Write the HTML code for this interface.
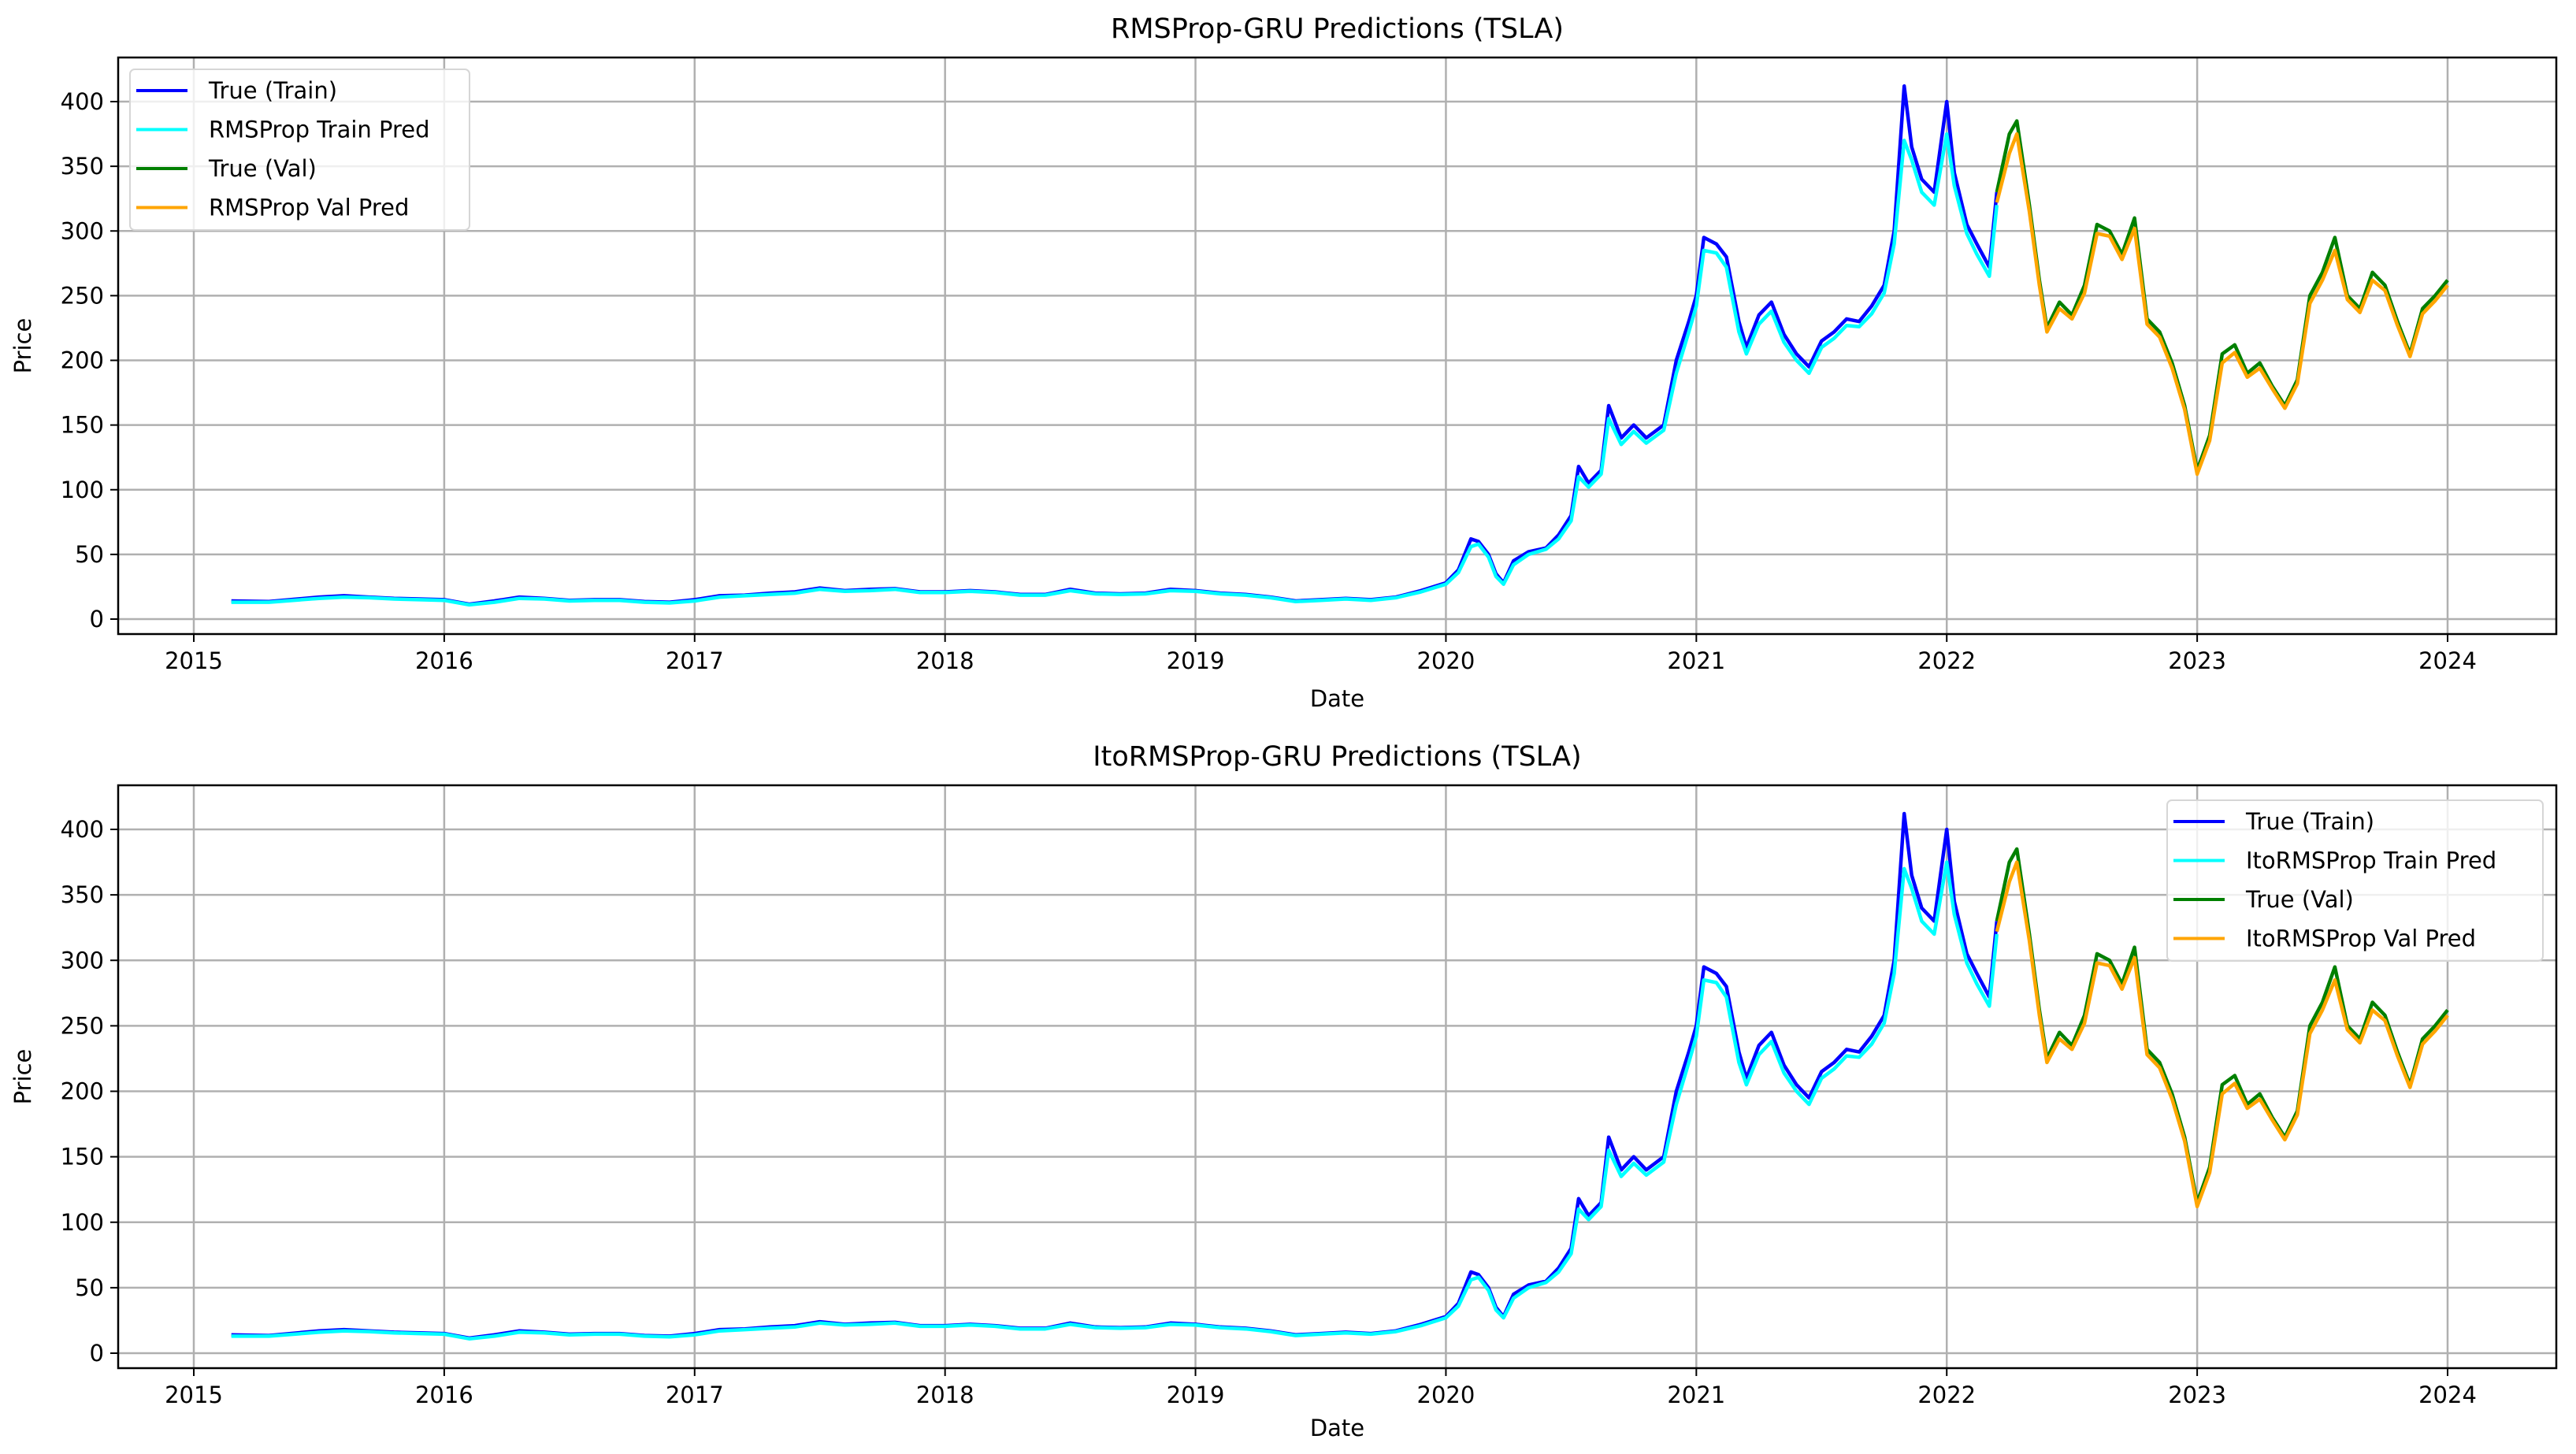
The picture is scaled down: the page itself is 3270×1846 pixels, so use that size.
<!DOCTYPE html>
<html><head><meta charset="utf-8"><style>
html,body{margin:0;padding:0;background:#fff;}
svg{display:block;font-family:"DejaVu Sans","Liberation Sans",sans-serif;}
</style></head><body>
<svg id="chart" width="3270" height="1846" viewBox="0 0 3270 1846" xmlns="http://www.w3.org/2000/svg"></svg>
<script>
const trainDates=[2015.15,2015.3,2015.5,2015.6,2015.7,2015.8,2015.9,2016.0,2016.1,2016.2,2016.3,2016.4,2016.5,2016.6,2016.7,2016.8,2016.9,2017.0,2017.1,2017.2,2017.3,2017.4,2017.5,2017.6,2017.7,2017.8,2017.9,2018.0,2018.1,2018.2,2018.3,2018.4,2018.5,2018.6,2018.7,2018.8,2018.9,2019.0,2019.1,2019.2,2019.3,2019.4,2019.5,2019.6,2019.7,2019.8,2019.9,2020.0,2020.05,2020.1,2020.13,2020.17,2020.2,2020.23,2020.27,2020.33,2020.4,2020.45,2020.5,2020.53,2020.57,2020.62,2020.65,2020.7,2020.75,2020.8,2020.87,2020.92,2020.97,2021.0,2021.03,2021.08,2021.12,2021.17,2021.2,2021.25,2021.3,2021.35,2021.4,2021.45,2021.5,2021.55,2021.6,2021.65,2021.7,2021.75,2021.79,2021.83,2021.86,2021.9,2021.95,2022.0,2022.03,2022.08,2022.12,2022.17,2022.2];
const trueTrain=[14,13.5,17,18,17,16,15.5,15,11.5,14,17,16,14.5,15,15,13.5,13,15,18,18.5,20,21,24,22,23,23.5,21,21,22,21,19,19,23,20,19.5,20,23,22,20,19,17,14,15,16,15,17,22,28,38,62,60,50,35,28,45,52,55,65,80,118,105,115,165,140,150,140,150,200,230,250,295,290,280,230,210,235,245,220,205,195,215,222,232,230,242,258,300,412,365,340,330,400,345,305,290,272,330];
const predTrain=[13,13,16,17,16.5,15.5,15,14.5,11,13,16,15.5,14,14.5,14.5,13,12.5,14,17,18,19,20,23,21.5,22,23,20.5,20.5,21.5,20.5,18.5,18.5,22,19.5,19,19.5,22,21.5,19.5,18.5,16.5,13.5,14.5,15.5,14.5,16.5,21,27,36,56,58,48,33,27,42,50,54,62,76,110,102,112,155,135,145,136,146,190,222,242,285,283,272,222,205,228,238,214,200,190,210,217,227,226,236,252,290,370,355,330,320,375,335,298,282,265,320];
const valDates=[2022.2,2022.25,2022.28,2022.33,2022.37,2022.4,2022.45,2022.5,2022.55,2022.6,2022.65,2022.7,2022.75,2022.8,2022.85,2022.9,2022.95,2023.0,2023.05,2023.1,2023.15,2023.2,2023.25,2023.3,2023.35,2023.4,2023.45,2023.5,2023.55,2023.6,2023.65,2023.7,2023.75,2023.8,2023.85,2023.9,2023.95,2024.0];
const trueVal=[330,375,385,320,262,225,245,235,258,305,300,282,310,232,222,198,165,115,142,205,212,190,198,180,165,185,250,268,295,250,240,268,258,230,205,240,250,262];
const predVal=[322,360,375,315,258,222,240,232,252,298,296,278,302,228,218,194,162,112,138,198,206,187,194,178,163,182,244,262,285,247,237,262,254,227,203,236,246,258];
const yTicks=[0,50,100,150,200,250,300,350,400];
const xTicks=[2015,2016,2017,2018,2019,2020,2021,2022,2023,2024];
const NS="http://www.w3.org/2000/svg";
const svg=document.getElementById('chart');
function mk(tag,attrs,parent){const e=document.createElementNS(NS,tag);for(const k in attrs)e.setAttribute(k,attrs[k]);(parent||svg).appendChild(e);return e;}
const panels=[
 {top:73,bottom:805,title:"RMSProp-GRU Predictions (TSLA)",titleY:48,dateY:897,pfx:"RMSProp",leg:{x:165,y:88,w:431,h:204},key:"top"},
 {top:997,bottom:1737,title:"ItoRMSProp-GRU Predictions (TSLA)",titleY:972,dateY:1823,pfx:"ItoRMSProp",leg:{x:2751,y:1016,w:477,h:204},key:"bottom"}
];
const L=150,R=3245;
function xS(v){return 246+(v-2015)*(3107-246)/9;}
panels.forEach(p=>{
 const y0=p.bottom-19,y400=p.top+56;
 const yS=v=>y0+(v)*(y400-y0)/400;
 const g=mk('g',{});
 
 
 xTicks.forEach(t=>{const x=xS(t);
  const gl=mk('line',{x1:x,x2:x,y1:p.top,y2:p.bottom,stroke:'#b0b0b0','stroke-width':2.5},g);
  
  mk('line',{x1:x,x2:x,y1:p.bottom,y2:p.bottom+10,stroke:'#000','stroke-width':2},g);
  const tx=mk('text',{x:x,y:p.bottom+44,'font-size':29,'text-anchor':'middle',fill:'#000'},g);tx.textContent=t;
  });
 yTicks.forEach(t=>{const y=yS(t);
  const gl=mk('line',{x1:L,x2:R,y1:y,y2:y,stroke:'#b0b0b0','stroke-width':2.5},g);
  
  mk('line',{x1:L-10,x2:L,y1:y,y2:y,stroke:'#000','stroke-width':2},g);
  const tx=mk('text',{x:L-18,y:y+10,'font-size':29,'text-anchor':'end',fill:'#000'},g);tx.textContent=t;
  });
 function line(dates,vals,color,name){const d=dates.map((dt,i)=>(i?'L':'M')+xS(dt).toFixed(1)+','+yS(vals[i]).toFixed(1)).join('');
  const pth=mk('path',{d:d,fill:'none',stroke:color,'stroke-width':4.5,'stroke-linejoin':'round'},g);
  }
 line(trainDates,trueTrain,'#0000ff','true-train-line');
 line(trainDates,predTrain,'#00ffff','train-pred-line');
 line(valDates,trueVal,'#008000','true-val-line');
 line(valDates,predVal,'#ffa500','val-pred-line');
 const fr=mk('rect',{x:L,y:p.top,width:R-L,height:p.bottom-p.top,fill:'none',stroke:'#000','stroke-width':2.5},g);
 
 const ti=mk('text',{x:(L+R)/2,y:p.titleY,'font-size':35,'text-anchor':'middle',fill:'#000'},g);ti.textContent=p.title;
 
 const xl=mk('text',{x:(L+R)/2,y:p.dateY,'font-size':29,'text-anchor':'middle',fill:'#000'},g);xl.textContent='Date';
 
 const cy=(p.top+p.bottom)/2;
 const yl=mk('text',{x:39,y:cy,'font-size':29,'text-anchor':'middle',fill:'#000',transform:'rotate(-90 39 '+cy+')'},g);yl.textContent='Price';
 
 const lg=mk('g',{},g);
 
 mk('rect',{x:p.leg.x,y:p.leg.y,width:p.leg.w,height:p.leg.h,rx:6,fill:'#fff','fill-opacity':0.8,stroke:'#d6d6d6','stroke-width':2},lg);
 const items=[['True (Train)','#0000ff'],[p.pfx+' Train Pred','#00ffff'],['True (Val)','#008000'],[p.pfx+' Val Pred','#ffa500']];
 items.forEach((it,i)=>{const yy=p.leg.y+27+i*49.5;
  const e=mk('g',{},lg);
  mk('line',{x1:p.leg.x+8,x2:p.leg.x+73,y1:yy,y2:yy,stroke:it[1],'stroke-width':4},e);
  const t=mk('text',{x:p.leg.x+100,y:yy+10,'font-size':29,fill:'#000'},e);t.textContent=it[0];});
});
</script>
</body></html>
